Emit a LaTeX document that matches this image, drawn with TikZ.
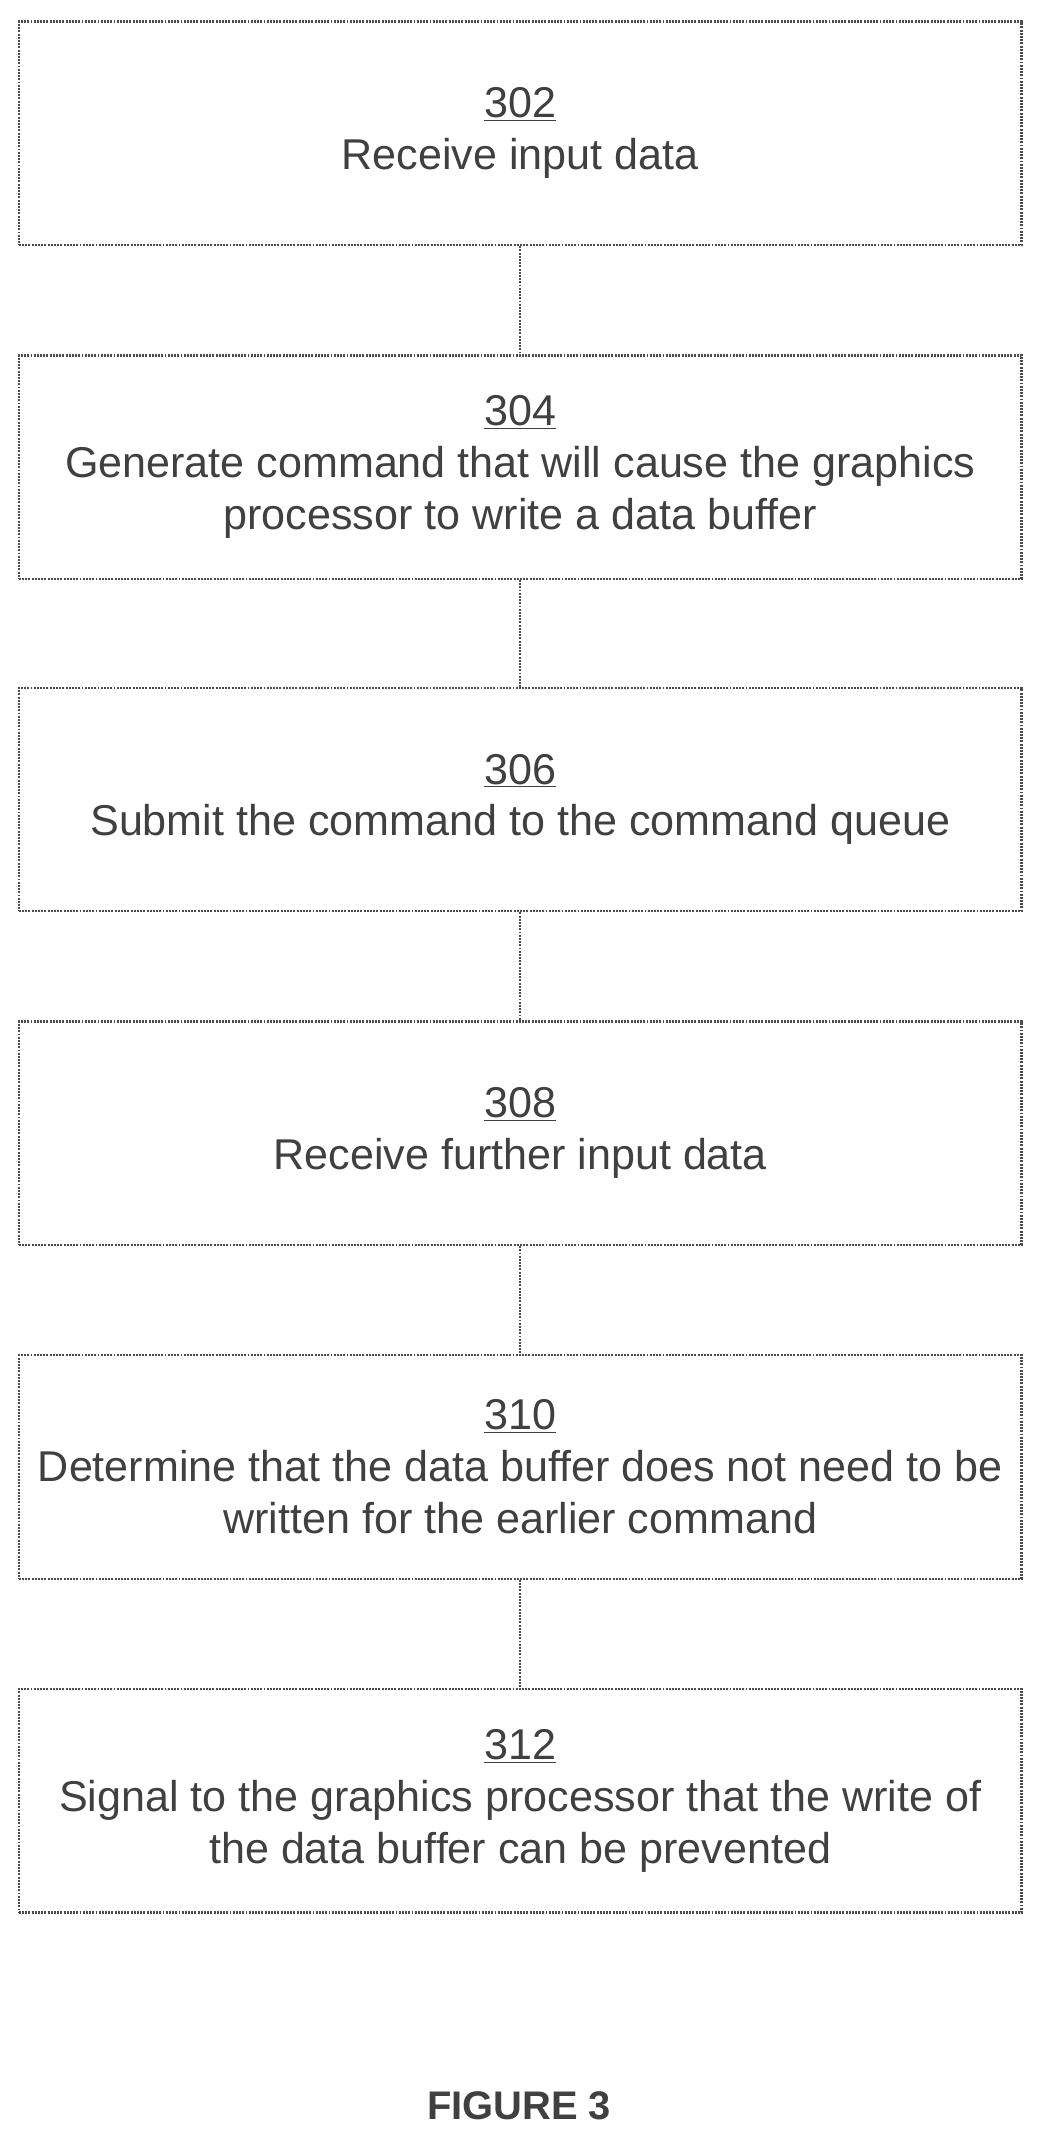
\documentclass[tikz,border=0pt]{standalone}
\usepackage{fontspec}
\setmainfont{Liberation Sans}
\begin{document}
\begin{tikzpicture}[x=0.03cm,y=-0.03cm,
  box/.style={draw=black!70,line width=1.5pt,dash pattern=on 1.2pt off 0.8pt,minimum width=22.08cm,minimum height=4.92cm,align=center,font=\fontsize{27}{32.5}\selectfont,text=black!75,anchor=north west,inner sep=0pt},
  link/.style={draw=black!70,line width=1.5pt,dash pattern=on 1.2pt off 0.8pt}]
\useasboundingbox (0,0) rectangle (766,1568);
\node[box] (a) at (13,15) {\underline{302}\\Receive input data};
\node[box] (b) at (13,260) {\underline{304}\\Generate command that will cause the graphics\\processor to write a data buffer};
\node[box] (c) at (13,504) {\underline{306}\\Submit the command to the command queue};
\node[box] (d) at (13,749) {\underline{308}\\Receive further input data};
\node[box] (e) at (13,994) {\underline{310}\\Determine that the data buffer does not need to be\\written for the earlier command};
\node[box] (f) at (13,1239) {\underline{312}\\Signal to the graphics processor that the write of\\the data buffer can be prevented};
\draw[link] (a.south) -- (b.north);
\draw[link] (b.south) -- (c.north);
\draw[link] (c.south) -- (d.north);
\draw[link] (d.south) -- (e.north);
\draw[link] (e.south) -- (f.north);
\node[font=\fontsize{25}{28}\selectfont\bfseries,text=black!75] (t) at (381,1546) {FIGURE 3};
\end{tikzpicture}
\end{document}
